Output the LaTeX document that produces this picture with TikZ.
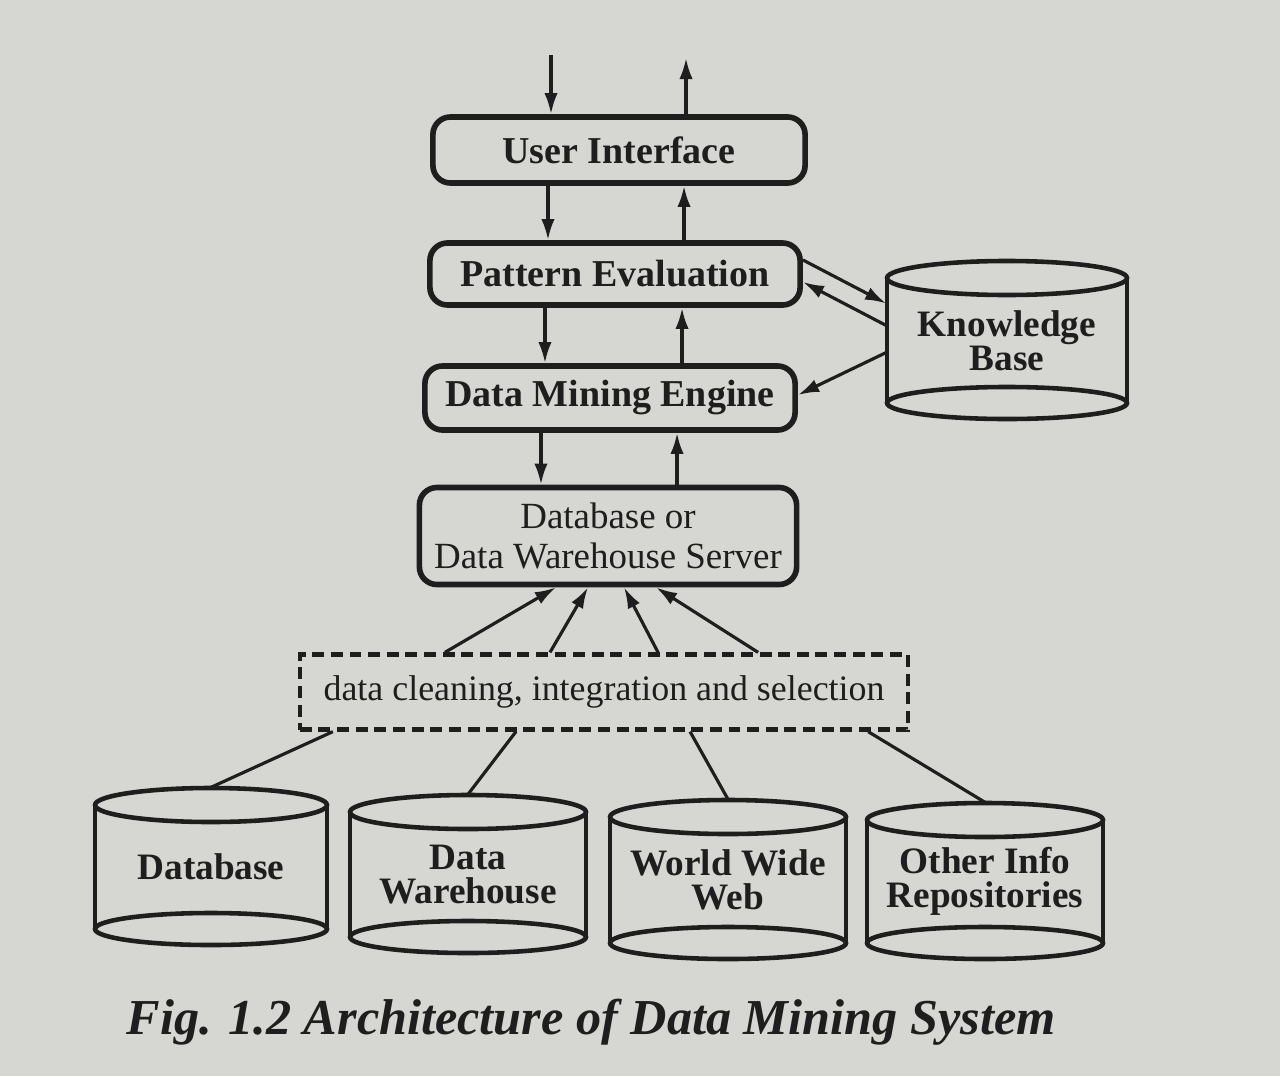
\documentclass[tikz,border=0pt]{standalone}
\usepackage{fontspec}
\setmainfont{Liberation Serif}
\usetikzlibrary{arrows.meta, calc}
\definecolor{PageGray}{RGB}{214, 214, 211}
\definecolor{InkGray}{RGB}{30, 30, 30}

\tikzset{
  block/.style={draw=InkGray, line width=1.6pt, rounded corners=5pt, text=InkGray, inner sep=0pt, align=center, font=\fontsize{10.8}{12}\selectfont\bfseries},
  cleanbox/.style={draw=InkGray, line width=1.2pt, dash pattern=on 3.4pt off 1.9pt, text=InkGray, inner sep=0pt, font=\fontsize{10.2}{12}\selectfont},
  drum/.style={inner sep=0pt, text=InkGray, align=center, font=\fontsize{10.6}{9.6}\selectfont\bfseries},
  drumline/.style={draw=InkGray, line width=1.3pt},
  link/.style={-{Latex[length=6pt, width=3.8pt]}, line width=0.9pt, draw=InkGray},
  wire/.style={line width=0.9pt, draw=InkGray}
}

% name, centre x, top y, bottom y, half width (all px), label
\newcommand{\drum}[6]{
  \node[drum, minimum width=#5*0.02cm, minimum height=(#4-#3+34)*0.01cm] (#1) at (#2,{(#3+#4)/2}) {#6};
  \draw[drumline] (#2,#3) ellipse [x radius=#5*0.01cm, y radius=0.17cm];
  \draw[drumline] (#2,#4) ellipse [x radius=#5*0.01cm, y radius=0.16cm];
  \draw[drumline] ({#2-#5},#3) -- ({#2-#5},#4);
  \draw[drumline] ({#2+#5},#3) -- ({#2+#5},#4);
}

\begin{document}
\begin{tikzpicture}[x=0.01cm, y=-0.01cm]
  \fill[PageGray] (0,0) rectangle (1280,1076);
  \useasboundingbox (0,0) rectangle (1280,1076);

  % main stack
  \node[block, minimum width=3.72cm, minimum height=0.66cm] (ui) at (619,150) {User Interface};
  \node[block, minimum width=3.70cm, minimum height=0.62cm] (pe) at (615,274) {Pattern Evaluation};
  \node[block, minimum width=3.70cm, minimum height=0.64cm] (dme) at (610,398) {Data Mining Engine};
  \node[block, font=\fontsize{10.5}{11.4}\selectfont, minimum width=3.77cm, minimum height=0.97cm] (srv) at (608,536) {Database or\\Data Warehouse Server};
  \node[cleanbox, minimum width=6.08cm, minimum height=0.75cm] (clean) at (604,692) {data cleaning, integration and selection};

  % cylinders
  \drum{kb}{1007}{278}{403}{120}{Knowledge\\Base}
  \drum{db}{211}{805}{929}{116}{Database}
  \drum{dw}{468}{812}{937}{118}{Data\\Warehouse}
  \drum{www}{728}{817}{943}{118}{World Wide\\Web}
  \drum{oth}{985}{820}{943}{118}{Other Info\\Repositories}

  \node[font=\fontsize{14.3}{16}\selectfont\bfseries\itshape, text=InkGray] (cap) at (591,1022) {Fig. 1.2 Architecture of Data Mining System};

  % user side
  \coordinate (userin) at (551,55);
  \coordinate (userout) at (686,58);
  \draw[link] (userin) -- (userin |- ui.north);
  \draw[link] (userout |- ui.north) -- (userout);

  % up and down the stack
  \foreach \a/\b/\l/\r in {ui/pe/-0.71/0.65, pe/dme/-0.70/0.67, dme/srv/-0.69/0.67} {
    \draw[link] ([xshift=\l cm]\a.south) -- ([xshift=\l cm]\a.south |- \b.north);
    \draw[link] ([xshift=\r cm]\a.south |- \b.north) -- ([xshift=\r cm]\a.south);
  }

  % knowledge base
  \draw[link] ([yshift=0.14cm]pe.east) -- ([yshift=0.37cm]kb.west);
  \draw[link] ([yshift=0.15cm]kb.west) -- ([yshift=-0.08cm]pe.east);
  \draw[link] ([yshift=-0.12cm]kb.west) -- ([yshift=0.03cm]dme.east);

  % into the server
  \foreach \s/\e in {-1.59/-0.52, -0.54/-0.20, 0.54/0.16, 1.54/0.48}
    \draw[link] ([xshift=\s cm]clean.north) -- ([xshift=\e cm]srv.south);

  % sources
  \foreach \s/\d in {-2.71/db, -0.88/dw, 0.86/www, 2.64/oth}
    \draw[wire] ([xshift=\s cm]clean.south) -- (\d.north);
\end{tikzpicture}
\end{document}
